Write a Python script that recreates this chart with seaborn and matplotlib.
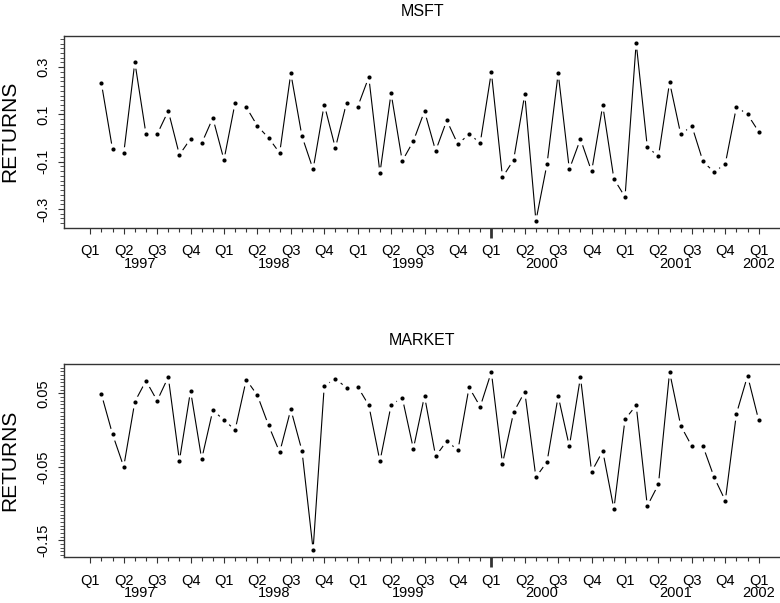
"""Monthly returns of MSFT and the market, S-PLUS style two-panel figure."""

import matplotlib
matplotlib.use("Agg")
import matplotlib.pyplot as plt  # noqa: E402
from matplotlib.ticker import FixedLocator, MultipleLocator  # noqa: E402
import pandas as pd  # noqa: E402
import seaborn as sns  # noqa: E402

# Feb 1997 .. Jan 2002, one value per month
dates = pd.date_range("1997-02-01", periods=60, freq="MS")

msft = [
    0.231, -0.048, -0.065, 0.321, 0.017, 0.016, 0.115, -0.071, -0.003, -0.022,
    0.085, -0.092, 0.149, 0.131, 0.051, 0.001, -0.063, 0.274, 0.008, -0.132,
    0.142, -0.042, 0.149, 0.132, 0.258, -0.148, 0.190, -0.097, -0.013, 0.114,
    -0.054, 0.075, -0.027, 0.018, -0.021, 0.279, -0.166, -0.092, 0.185, -0.350,
    -0.109, 0.275, -0.132, -0.004, -0.141, 0.138, -0.172, -0.249, 0.403, -0.038,
    -0.077, 0.236, 0.016, 0.051, -0.099, -0.144, -0.109, 0.132, 0.100, 0.027,
]

market = [
    0.0488, -0.0056, -0.0497, 0.0388, 0.0673, 0.0401, 0.0724, -0.0415, 0.0537, -0.0392,
    0.0271, 0.0139, 0.0003, 0.0687, 0.0475, 0.0067, -0.0301, 0.0284, -0.0279, -0.1626,
    0.0601, 0.0701, 0.0578, 0.0592, 0.0339, -0.0423, 0.0339, 0.0445, -0.0252, 0.0465,
    -0.0355, -0.0147, -0.0273, 0.0584, 0.0320, 0.0792, -0.0456, 0.0244, 0.0524, -0.0641,
    -0.0429, 0.0465, -0.0219, 0.0724, -0.0565, -0.0283, -0.1072, 0.0148, 0.0339, -0.1031,
    -0.0736, 0.0792, 0.0061, -0.0219, -0.0219, -0.0641, -0.0959, 0.0224, 0.0741, 0.0135,
]

msft_yticks = [-0.3, -0.1, 0.1, 0.3]
market_yticks = [-0.15, -0.05, 0.05]
quarter_labels = ["Q1", "Q2", "Q3", "Q4"]
years = [1997, 1998, 1999, 2000, 2001, 2002]

sns.set_style("white")
plt.rcParams["font.family"] = ["Liberation Sans", "DejaVu Sans"]
plt.rcParams["axes.unicode_minus"] = False
plt.rcParams["text.color"] = "black"
plt.rcParams["axes.labelcolor"] = "black"
plt.rcParams["xtick.labelcolor"] = "black"
plt.rcParams["ytick.labelcolor"] = "black"

# months counted from Jan 1997
month_idx = (dates.year - 1997) * 12 + dates.month - 1
df = pd.DataFrame({"month": month_idx, "MSFT": msft, "MARKET": market})

XLIM = (-2.36, 62.0)


def draw_panel(ax, col, yticks, minor_step, ylim):
    # white fat markers punch gaps in the line around each point
    sns.lineplot(data=df, x="month", y=col, ax=ax, color="black", lw=0.8,
                 marker="o", markersize=9, markerfacecolor="white",
                 markeredgecolor="white", markeredgewidth=0)
    sns.scatterplot(data=df, x="month", y=col, ax=ax, color="black", s=9,
                    linewidth=0, zorder=3)

    ax.set_xlim(*XLIM)
    ax.set_ylim(*ylim)
    for side in ("top", "left", "bottom"):
        ax.spines[side].set_color("#333333")
        ax.spines[side].set_linewidth(1.0)
    ax.spines["right"].set_visible(False)

    # y axis: rotated labels, dense minor ticks
    ax.yaxis.set_major_locator(FixedLocator(yticks))
    ax.set_yticklabels([f"{v:g}" for v in yticks])
    ax.yaxis.set_minor_locator(MultipleLocator(minor_step))
    ax.tick_params(axis="y", which="major", left=True, length=4, width=0.8,
                   labelsize=10.5, pad=6, labelrotation=90, color="#333333")
    ax.tick_params(axis="y", which="minor", left=True, length=3, width=0.6,
                   color="#333333")
    for lbl in ax.get_yticklabels():
        lbl.set_va("center")

    # x axis: quarter ticks with labels, monthly minor ticks
    qpos = list(range(0, 61, 3))
    ax.xaxis.set_major_locator(FixedLocator(qpos))
    ax.set_xticklabels([quarter_labels[(p // 3) % 4] for p in qpos])
    ax.xaxis.set_minor_locator(FixedLocator(list(range(0, 61))))
    ax.tick_params(axis="x", which="major", bottom=True, length=4, width=0.8,
                   labelsize=10.5, pad=8, color="#333333")
    ax.tick_params(axis="x", which="minor", bottom=True, length=3, width=0.8,
                   color="#333333")
    big = ax.xaxis.get_major_ticks()[qpos.index(36)]
    big.tick1line.set_markersize(7)
    big.tick1line.set_markeredgewidth(2)

    for k, yr in enumerate(years):
        pos = min(12 * k + 4.5, qpos[-1])
        ax.annotate(str(yr), xy=(pos, 0), xycoords=("data", "axes fraction"),
                    xytext=(0, -21), textcoords="offset points",
                    ha="center", va="top", fontsize=10.5)

    ax.set_xlabel("")
    ax.set_ylabel("RETURNS", fontsize=15)
    ax.yaxis.set_label_coords(-0.062, 0.5)
    ax.set_title(col, fontsize=11.5, pad=14)


fig = plt.figure(figsize=(7.8, 6.03), dpi=100)
W, H = 780, 603
ax1 = fig.add_axes([64 / W, (H - 227.7) / H, (781 - 64) / W, 192 / H])
ax2 = fig.add_axes([64 / W, (H - 557.3) / H, (781 - 64) / W, 193 / H])

draw_panel(ax1, "MSFT", msft_yticks, 0.02, (-0.379, 0.433))
draw_panel(ax2, "MARKET", market_yticks, 0.005, (-0.173, 0.0897))

fig.savefig("out.png", dpi=100)
